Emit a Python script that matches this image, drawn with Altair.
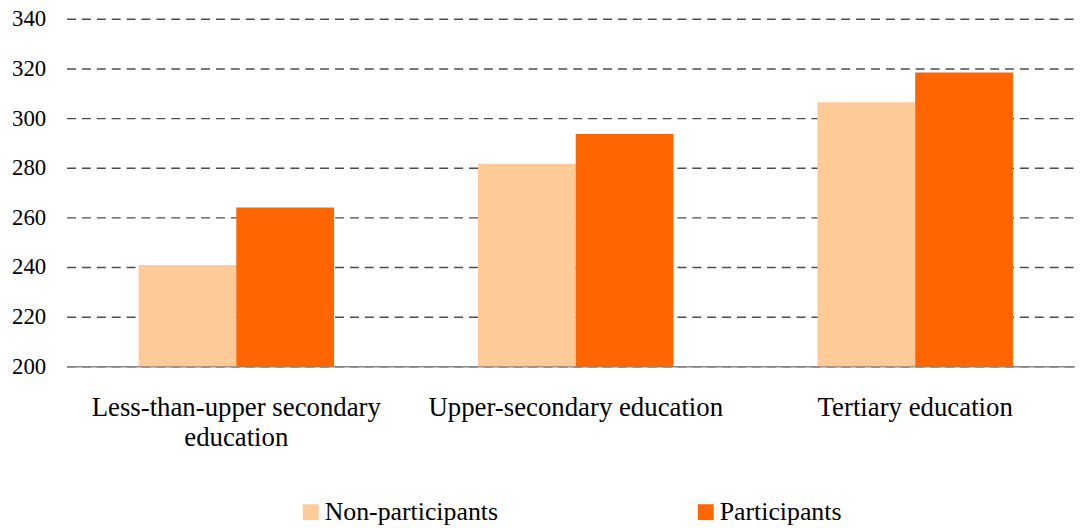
import altair as alt
import pandas as pd

categories = ["Less-than-upper secondary education", "Upper-secondary education", "Tertiary education"]
groups = ["Non-participants", "Participants"]
non_participants = [240.8, 281.6, 306.4]
participants = [264.0, 293.6, 318.4]
y_ticks = [200, 220, 240, 260, 280, 300, 320, 340]
colors = ["#FECB98", "#FF6600"]

rows = []
for c, a, b in zip(categories, non_participants, participants):
    rows.append({"category": c, "group": groups[0], "value": a})
    rows.append({"category": c, "group": groups[1], "value": b})
df = pd.DataFrame(rows)

FONT = "Liberation Serif"

chart = alt.Chart(df).mark_bar().encode(
    x=alt.X("category:N", sort=categories, title=None,
            scale=alt.Scale(paddingInner=0.424, paddingOuter=0.212),
            axis=alt.Axis(labelAngle=0, ticks=False, domain=True, domainColor="#868686",
                          domainWidth=1.5, labelFontSize=27, labelFont=FONT, labelColor="#000000",
                          labelPadding=29, labelLimit=500, labelLineHeight=30,
                          labelExpr="datum.label == 'Less-than-upper secondary education' ? ['Less-than-upper secondary', 'education'] : datum.label")),
    xOffset=alt.XOffset("group:N", sort=groups),
    y=alt.Y("value:Q", title=None,
            scale=alt.Scale(domain=[200, 340], nice=False, zero=False),
            axis=alt.Axis(values=y_ticks, ticks=False, domain=False, grid=True,
                          gridDash=[9, 6], gridColor="#4d4d4d", gridWidth=1.5,
                          labelFontSize=23, labelFont=FONT, labelColor="#000000",
                          labelPadding=21)),
    y2=alt.datum(200),
    color=alt.Color("group:N", sort=groups, title=None,
                    scale=alt.Scale(domain=groups, range=colors),
                    legend=alt.Legend(orient="none", legendX=233, legendY=484,
                                      direction="horizontal", symbolType="square",
                                      symbolSize=256, symbolStrokeWidth=0,
                                      labelFontSize=26, labelFont=FONT, labelColor="#000000",
                                      labelOffset=1, columnPadding=196, labelLimit=500)),
).properties(
    width=1026, height=350,
    autosize=alt.AutoSizeParams(type="none"),
    padding={"left": 59, "top": 9, "right": -10, "bottom": 161},
).configure_view(stroke=None)

chart.save("out.html", embed_options={"renderer": "svg", "actions": False})
